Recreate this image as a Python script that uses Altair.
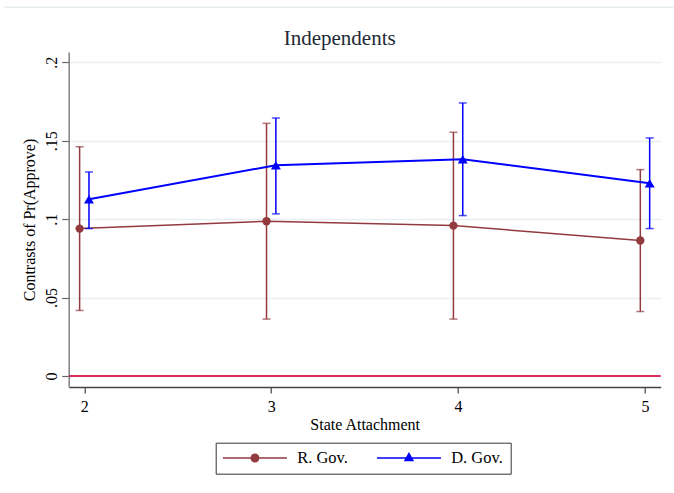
import altair as alt
import pandas as pd

# State attachment levels on the x axis
attachment = [2, 3, 4, 5]
series_names = ["R. Gov.", "D. Gov."]

# Contrasts of Pr(Approve) with 95% confidence bounds
r_est = [0.0940, 0.0987, 0.0959, 0.0864]
r_lo = [0.0418, 0.0363, 0.0363, 0.0411]
r_hi = [0.1462, 0.1611, 0.1554, 0.1316]

d_est = [0.1127, 0.1344, 0.1382, 0.1229]
d_lo = [0.0940, 0.1034, 0.1023, 0.0940]
d_hi = [0.1301, 0.1645, 0.1741, 0.1518]

y_ticks = [0, 0.05, 0.1, 0.15, 0.2]

SERIF = "Liberation Serif"
RED = "#933a3f"
BLUE = "#0000ff"

# small horizontal dodge so the two series do not overlap
dodge = {"R. Gov.": -0.025, "D. Gov.": 0.025}

rows = []
for name, est, lo, hi in [("R. Gov.", r_est, r_lo, r_hi), ("D. Gov.", d_est, d_lo, d_hi)]:
    for a, e, l, h in zip(attachment, est, lo, hi):
        rows.append(dict(series=name, attachment=a, pos=a + dodge[name], est=e, lo=l, hi=h))
df = pd.DataFrame(rows)

x_scale = alt.Scale(domain=[1.9166, 5.084], nice=False, zero=False)
y_scale = alt.Scale(domain=[-0.007, 0.2066], nice=False, zero=False)

x_axis = alt.Axis(
    title="State Attachment", values=attachment, format="d", grid=False,
    labelFont=SERIF, labelFontSize=16, labelColor="black", labelPadding=6,
    titleFont=SERIF, titleFontSize=16, titleFontWeight="normal", titleColor="black",
    titlePadding=2, domainColor="#444444", domainWidth=1.5, tickColor="#444444",
    tickSize=6, tickWidth=1.2,
)
y_axis = alt.Axis(
    title="Contrasts of Pr(Approve)", values=y_ticks,
    labelExpr="datum.value == 0 ? '0' : replace(toString(datum.value), '0.', '.')",
    labelAngle=270, labelAlign="center", labelBaseline="bottom", labelPadding=2,
    labelFont=SERIF, labelFontSize=16, labelColor="black",
    titleFont=SERIF, titleFontSize=16, titleFontWeight="normal", titleColor="black",
    titlePadding=6, domainColor="#808080", domainWidth=1.5, tickColor="#666666",
    tickSize=7, tickWidth=1.2, grid=True, gridColor="#e8eff1", gridWidth=1.5,
)

X = alt.X("pos:Q", scale=x_scale, axis=x_axis)


def Y(field):
    return alt.Y(f"{field}:Q", scale=y_scale, axis=y_axis)


# legend symbols: a line segment with the series marker in the middle
bar = "M-4,-0.1 L4,-0.1 L4,0.1 L-4,0.1 Z"
circle_sym = bar + " M0.56,0 A0.56,0.56 0 1,1 -0.56,0 A0.56,0.56 0 1,1 0.56,0 Z"
triangle_sym = bar + " M0,-0.75 L0.65,0.4 L-0.65,0.4 Z"

legend = alt.Legend(
    title=None, orient="none", legendX=147, legendY=390.7, direction="horizontal",
    padding=7, strokeColor="#333333", fillColor="white",
    symbolSize=256, symbolStrokeWidth=0, symbolOffset=24, labelOffset=34,
    columnPadding=28, labelFont=SERIF, labelFontSize=16.5, labelColor="black",
)

base = alt.Chart(df)

layers = []

# zero reference line
zero = alt.Chart(pd.DataFrame({"zero": [0]})).mark_rule(color="#d8315b", strokeWidth=2).encode(
    y=Y("zero")
)
layers.append(zero)

styles = {
    "R. Gov.": dict(color=RED, shape="circle", size=70, width=1.5),
    "D. Gov.": dict(color=BLUE, shape="triangle-up", size=100, width=2),
}

for name in series_names:
    st = styles[name]
    sub = base.transform_filter(alt.datum.series == name)
    line = sub.mark_line(color=st["color"], strokeWidth=st["width"]).encode(x=X, y=Y("est"))
    bars = sub.mark_rule(color=st["color"], strokeWidth=1.5).encode(x=X, y=Y("lo"), y2="hi:Q")
    cap_lo = sub.mark_tick(orient="horizontal", size=8, thickness=1.5, color=st["color"]).encode(
        x=X, y=Y("lo")
    )
    cap_hi = sub.mark_tick(orient="horizontal", size=8, thickness=1.5, color=st["color"]).encode(
        x=X, y=Y("hi")
    )
    pts = sub.mark_point(filled=True, opacity=1, shape=st["shape"], size=st["size"],
                         color=st["color"]).encode(x=X, y=Y("est"))
    layers += [line, bars, cap_lo, cap_hi, pts]

# legend carrier: no marks drawn, only the legend entries
legend_layer = base.transform_filter("false").mark_point(filled=True, opacity=1).encode(
    x=X, y=Y("est"),
    color=alt.Color("series:N", scale=alt.Scale(domain=series_names, range=[RED, BLUE]), legend=legend),
    shape=alt.Shape("series:N", scale=alt.Scale(domain=series_names, range=[circle_sym, triangle_sym]),
                    legend=legend),
)
layers.append(legend_layer)

# thin frame line across the top of the graph region
frame = alt.Chart(pd.DataFrame({"f": [0]})).mark_rule(color="#e6eef0", strokeWidth=1.5).encode(
    x=alt.value(-65), x2=alt.value(606), y=alt.value(-44.7)
)
layers.append(frame)

chart = alt.layer(*layers).properties(
    width=592, height=335,
    title=alt.TitleParams("Independents", font=SERIF, fontSize=21, fontWeight="normal",
                          color="#222a35", anchor="middle", frame="group", offset=0,
                          baseline="alphabetic", dx=-25, dy=59.5),
    padding={"left": 68.7, "top": 52, "right": 13.3, "bottom": 105.7},
    autosize=alt.AutoSizeParams(type="none"),
    background="white",
).configure_view(stroke=None)

chart.save("out.html", embed_options={"renderer": "svg", "actions": False})
